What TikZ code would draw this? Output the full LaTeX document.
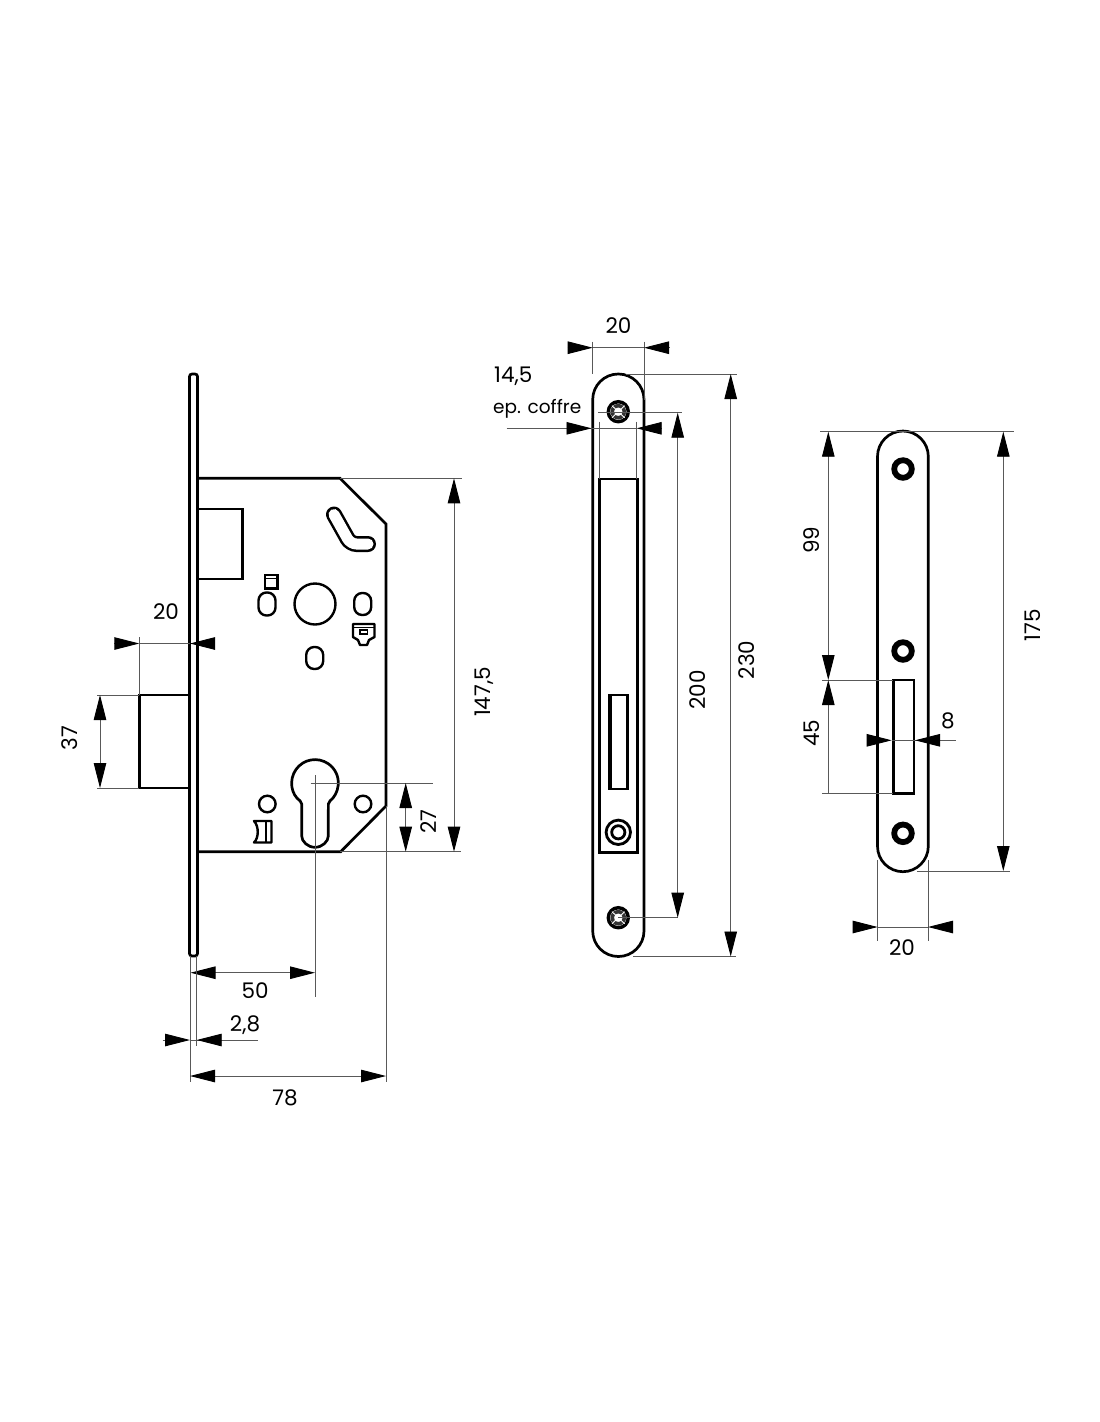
\documentclass[tikz,border=0pt]{standalone}
\usepackage{fontspec}
\setmainfont{Poppins}
\usetikzlibrary{arrows.meta}
\definecolor{dimgray}{gray}{0.35}
\tikzset{
 part/.style={line width=2.7pt,black,line join=miter},
 thin part/.style={line width=2.4pt,black},
 dimline/.style={line width=0.9pt,dimgray},
 ext/.style={line width=0.9pt,dimgray},
 tip/.style={line width=0.9pt,dimgray,arrows={-{Triangle[length=25pt,width=12.5pt,color=black]}}},
 dimtext/.style={font=\fontsize{21.5}{23}\selectfont,text=black,inner sep=0pt},
 rottext/.style={dimtext,rotate=90},
 smalltext/.style={font=\fontsize{18.5}{20}\selectfont,text=black,inner sep=0pt},
}
\begin{document}
\begin{tikzpicture}[x=1pt,y=-1pt]
\useasboundingbox (0,0) rectangle (1100,1422);
% ---------- left view
\draw[part,rounded corners=2.5pt] (189.5,956) -- (189.5,374) -- (197.5,374) -- (197.5,956) -- cycle;
\draw[part] (197.5,478.3) -- (340,478.3) -- (386,524) -- (386,806) -- (340.7,851.7) -- (197.5,851.7);
\draw[part] (197.5,509) -- (242.7,509) -- (242.7,579) -- (197.5,579);
\draw[part] (189.5,695) -- (139.3,695) -- (139.3,788) -- (189.5,788);
\draw[thin part] (265,575) rectangle (277.5,588.5);
\draw[line width=1.4pt] (265,578.5) -- (277.5,578.5);
\draw[thin part,rounded corners=8pt] (258.5,592.5) rectangle (275.5,615.5);
\draw[thin part] (315,604) circle (20.5pt);
\draw[thin part,rounded corners=8pt] (354.2,593) rectangle (371.2,615);
\draw[thin part,rounded corners=8pt] (306.2,647) rectangle (323.2,669);
\draw[thin part,line join=round] (353,624) -- (374.5,624) -- (374.5,637) -- (369,640) -- (367,645) -- (360,645) -- (358,640) -- (353,637) -- cycle;
\draw[line width=1.4pt] (353,627.5) -- (374.5,627.5);
\draw[line width=1.4pt] (360,630) rectangle (367.5,634);
\draw[line width=16pt,black,line cap=round,rounded corners=6pt] (334,514.5) -- (350.5,544) -- (368,544);
\draw[line width=11pt,white,line cap=round,rounded corners=6pt] (334,514.5) -- (350.5,544) -- (368,544);
\draw[part,rounded corners=2pt] (301.7,802) arc[start angle=235.1,end angle=-55.1,radius=23.3pt] -- (328.3,834) arc[start angle=0,end angle=-180,radius=13.3pt] -- cycle;
\draw[thin part] (267.3,804) circle (8.3pt);
\draw[thin part] (363,804) circle (8.3pt);
\draw[thin part,line join=round] (254,821) -- (271.5,821) -- (271.5,842.5) -- (254,842.5) .. controls (259,838) and (259,826) .. (254,821) -- cycle;
\draw[line width=2pt] (266,821) -- (266,842.5);
% dims left
\coordinate (d20a) at (139.3,643.5); \coordinate (d20b) at (190,643.5);
\draw[ext] (139.3,637) -- (139.3,695);
\draw[dimline] (d20a) -- (d20b);
\draw[tip] (114,643.5) -- (d20a);
\draw[tip] (212,643.5) -- (d20b);
\node[dimtext] (t20a) at (166,612) {20};
\coordinate (d37a) at (100,695); \coordinate (d37b) at (100,788);
\draw[ext] (97,695) -- (139,695); \draw[ext] (97,788) -- (139,788);
\draw[tip] (100,741) -- (d37a);
\draw[tip] (100,741) -- (d37b);
\node[rottext] (t37) at (70,738) {37};
\coordinate (d147a) at (454,478.3); \coordinate (d147b) at (454,851.7);
\draw[ext] (340,478.3) -- (462,478.3); \draw[ext] (340,851.7) -- (461,851.7);
\draw[tip] (454,665) -- (d147a);
\draw[tip] (454,665) -- (d147b);
\node[rottext] (t147) at (484,692) {147,5};
\coordinate (d27a) at (405.7,783); \coordinate (d27b) at (405.7,851.7);
\draw[ext] (310.7,783) -- (433,783);
\draw[tip] (405.7,817) -- (d27a);
\draw[tip] (405.7,817) -- (d27b);
\node[rottext] (t27) at (429,821.7) {27};
\draw[ext] (315,775) -- (315,996.7);
\coordinate (d50a) at (190.5,972.7); \coordinate (d50b) at (315,972.7);
\draw[tip] (250,972.7) -- (d50a);
\draw[tip] (250,972.7) -- (d50b);
\node[dimtext] (t50) at (255,991) {50};
\draw[ext] (190,956) -- (190,1082);
\draw[ext] (196.7,956) -- (196.7,1046);
\coordinate (d28a) at (190,1040); \coordinate (d28b) at (196.7,1040);
\draw[dimline] (d28a) -- (257.7,1040);
\draw[tip] (162.7,1040) -- (d28a);
\draw[tip] (221.7,1040) -- (d28b);
\node[dimtext] (t28) at (245,1025) {2,8};
\coordinate (d78a) at (190,1076); \coordinate (d78b) at (386,1076);
\draw[tip] (288,1076) -- (d78a);
\draw[tip] (288,1076) -- (d78b);
\draw[ext] (386,806) -- (386,1082);
\node[dimtext] (t78) at (285,1098) {78};
% ---------- middle view
\draw[part,rounded corners=25.6pt] (592.7,374) rectangle (644,956.5);
\draw[part] (599.3,479) rectangle (637.3,852.3);
\draw[line width=3.6pt] (610,694.5) -- (610,789);
\draw[line width=3.6pt] (627.6,694.5) -- (627.6,789);
\draw[line width=1.8pt] (608.2,694.8) -- (629.4,694.8);
\draw[line width=1.8pt] (608.2,789) -- (629.4,789);
\draw[line width=2.8pt] (618.3,832.3) circle (12.2pt);
\draw[line width=2.8pt] (618.3,832.3) circle (6.6pt);
\foreach \cy/\nm in {411.7/a,917.7/b}{
  \draw[line width=3.4pt] (618.3,\cy) circle (10pt);
  \draw[line width=3.6pt,black!80] (618.3,\cy) circle (6pt);
  \fill[white] (615.3,\cy-3) rectangle (621.3,\cy+3);
  \draw[white,line width=0.9pt] (612,\cy-6) -- (624.6,\cy+6) (624.6,\cy-6) -- (612,\cy+6);
}
\coordinate (m20a) at (592.7,347.7); \coordinate (m20b) at (644,347.7);
\draw[ext] (592.7,341.7) -- (592.7,374); \draw[ext] (644,341.7) -- (644,400);
\draw[dimline] (m20a) -- (m20b);
\draw[tip] (567.7,347.7) -- (m20a);
\draw[tip] (669,347.7) -- (m20b);
\node[dimtext] (tm20) at (618.5,326) {20};
\coordinate (m14a) at (591.5,428.3); \coordinate (m14b) at (636.7,428.3);
\draw[dimline] (506.7,428.3) -- (m14a) -- (m14b);
\draw[tip] (567,428.3) -- (m14a);
\draw[tip] (660.5,428.3) -- (m14b);
\draw[ext] (599.3,421.7) -- (599.3,479); \draw[ext] (636.7,421.7) -- (636.7,479);
\node[dimtext,anchor=west] (t145) at (494,376.5) {14,5};
\node[smalltext,anchor=west] (tcoffre) at (493,409) {ep. coffre};
\coordinate (m200a) at (677.7,412.7); \coordinate (m200b) at (677.7,917.7);
\draw[ext] (598,412.7) -- (682,412.7); \draw[ext] (618.3,917.7) -- (678,917.7);
\draw[tip] (677.7,660) -- (m200a);
\draw[tip] (677.7,660) -- (m200b);
\node[rottext] (t200) at (698,690) {200};
\coordinate (m230a) at (730.7,374); \coordinate (m230b) at (730.7,956.5);
\draw[ext] (626,374) -- (736.7,374); \draw[ext] (633,956.5) -- (736,956.5);
\draw[tip] (730.7,660) -- (m230a);
\draw[tip] (730.7,660) -- (m230b);
\node[rottext] (t230) at (747,660) {230};
% ---------- right view
\draw[part,rounded corners=25.5pt] (877.5,431) rectangle (928.3,871.7);
\draw[part] (893.3,680) rectangle (914,793.7);
\foreach \cy in {469,651,833.3}{\draw[line width=5.8pt] (903,\cy) circle (8.8pt);}
\draw[ext] (820,431.7) -- (1014,431.7);
\draw[ext] (822,680) -- (893,680); \draw[ext] (822,793.7) -- (893,793.7);
\coordinate (r99a) at (828.3,431.7); \coordinate (r99b) at (828.3,680); \coordinate (r45) at (828.3,793.7);
\draw[tip] (828.3,560) -- (r99a);
\draw[tip] (828.3,560) -- (r99b);
\draw[tip] (828.3,730) -- (r99b);
\draw[ext] (828.3,730) -- (r45);
\node[rottext] (t99) at (812,540) {99};
\node[rottext] (t45) at (812,733) {45};
\coordinate (r175a) at (1003.3,431.7); \coordinate (r175b) at (1003.3,871);
\draw[ext] (917,871.2) -- (1010,871.2);
\draw[tip] (1003.3,650) -- (r175a);
\draw[tip] (1003.3,650) -- (r175b);
\node[rottext] (t175) at (1033,625) {175};
\coordinate (r8a) at (891.7,740.3); \coordinate (r8b) at (915,740.3);
\draw[dimline] (r8a) -- (956,740.3);
\draw[tip] (870,740.3) -- (r8a);
\draw[tip] (937,740.3) -- (r8b);
\node[dimtext] (t8) at (948,721) {8};
\coordinate (r20a) at (877.7,927); \coordinate (r20b) at (928,927);
\draw[ext] (877.7,860) -- (877.7,940.7); \draw[ext] (928,860) -- (928,940.7);
\draw[dimline] (r20a) -- (r20b);
\draw[tip] (855,927) -- (r20a);
\draw[tip] (952.3,927) -- (r20b);
\node[dimtext] (tr20) at (902,948) {20};
\end{tikzpicture}
\end{document}
